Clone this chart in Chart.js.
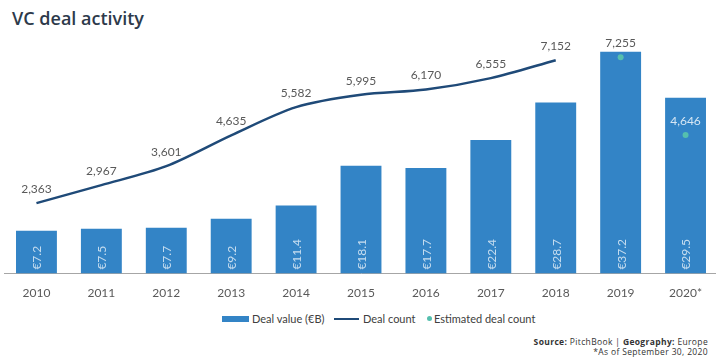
<!DOCTYPE html>
<html>
<head>
<meta charset="utf-8">
<script src="https://cdn.jsdelivr.net/npm/chart.js@4.4.1/dist/chart.umd.min.js"></script>
<style>
  html, body { margin: 0; padding: 0; background: #fff; overflow: hidden; }
  body { width: 716px; height: 363px; position: relative; font-family: "Lato", "Open Sans", sans-serif; }
  #title { position: absolute; left: 12px; top: 6px; font: 600 18px "Open Sans", sans-serif; color: #2d3a4b; }
  #wrap { position: absolute; left: 0; top: 0; width: 722px; height: 312px; }
  #legend { position: absolute; left: 222px; top: 312px; font-size: 11px; color: #404040; white-space: nowrap; }
  #legend span.item { position: absolute; top: 0; display: flex; align-items: center; }
  .swatch-bar { display: inline-block; width: 27px; height: 6px; background: #3384c6; margin-right: 3px; }
  .swatch-line { display: inline-block; width: 25px; height: 2px; background: #1f4a78; margin-right: 4px; }
  .swatch-dot { display: inline-block; width: 5px; height: 5px; border-radius: 50%; background: #55bfae; margin-right: 2px; }
  #source { position: absolute; right: 8px; top: 337px; text-align: right; font: 8.5px "Open Sans", sans-serif; letter-spacing: 0.35px; color: #333; line-height: 10px; }
</style>
</head>
<body>
<div id="title">VC deal activity</div>
<div id="wrap"><canvas id="vcChart"></canvas></div>
<div id="legend">
  <span class="item" style="left:0"><span class="swatch-bar"></span>Deal value (€B)</span>
  <span class="item" style="left:112px"><span class="swatch-line"></span>Deal count</span>
  <span class="item" style="left:205px"><span class="swatch-dot"></span>Estimated deal count</span>
</div>
<div id="source"><b>Source:</b> PitchBook | <b>Geography:</b> Europe<br>*As of September 30, 2020</div>
<script>
"use strict";

const years = ["2010", "2011", "2012", "2013", "2014", "2015", "2016", "2017", "2018", "2019", "2020*"];
const dealValue = [7.2, 7.5, 7.7, 9.2, 11.4, 18.1, 17.7, 22.4, 28.7, 37.2, 29.5];
const dealCount = [2363, 2967, 3601, 4635, 5582, 5995, 6170, 6555, 7152, null, null];
const estimatedCount = [null, null, null, null, null, null, null, null, null, 7255, 4646];

const fmt = (v) => v.toLocaleString("en-US");

// draws the value labels (no datalabels plugin available offline)
const valueLabels = {
  id: "valueLabels",
  afterDatasetsDraw(chart) {
    const ctx = chart.ctx;
    const bars = chart.getDatasetMeta(0).data;
    ctx.save();
    ctx.font = "12px Lato, 'Open Sans', sans-serif";

    // bar values, rotated inside the bar
    bars.forEach((bar, i) => {
      ctx.save();
      ctx.translate(bar.x, bar.base - 4);
      ctx.rotate(-Math.PI / 2);
      ctx.fillStyle = "rgba(255,255,255,0.72)";
      ctx.textAlign = "left";
      ctx.textBaseline = "middle";
      ctx.fillText("€" + dealValue[i].toFixed(1), 0, 1);
      ctx.restore();
    });

    ctx.textAlign = "center";
    ctx.textBaseline = "middle";
    [1, 2].forEach((dsIndex) => {
      const values = chart.data.datasets[dsIndex].data;
      chart.getDatasetMeta(dsIndex).data.forEach((pt, i) => {
        if (values[i] == null) return;
        const y = pt.y - 14;
        const insideBar = y > bars[i].y && Math.abs(pt.x - bars[i].x) < 21;
        ctx.fillStyle = insideBar ? "rgba(255,255,255,0.8)" : "#595959";
        ctx.fillText(fmt(values[i]), pt.x, y);
      });
    });
    ctx.restore();
  },
};

const ctx = document.getElementById("vcChart").getContext("2d");

new Chart(ctx, {
  data: {
    labels: years,
    datasets: [
      {
        type: "bar",
        label: "Deal value (€B)",
        data: dealValue,
        backgroundColor: "#3384c6",
        yAxisID: "y",
        barPercentage: 0.63,
        categoryPercentage: 1,
        order: 3,
      },
      {
        type: "line",
        label: "Deal count",
        data: dealCount,
        borderColor: "#1f4a78",
        borderWidth: 2.5,
        pointRadius: 0,
        tension: 0.3,
        yAxisID: "y2",
        order: 2,
      },
      {
        type: "line",
        label: "Estimated deal count",
        data: estimatedCount,
        showLine: false,
        pointRadius: 3,
        pointBackgroundColor: "#55bfae",
        pointBorderWidth: 0,
        yAxisID: "y2",
        order: 1,
      },
    ],
  },
  options: {
    responsive: true,
    maintainAspectRatio: false,
    animation: false,
    layout: { padding: { top: 35, left: 3.5, right: 2.5, bottom: 0 } },
    plugins: {
      legend: { display: false },
      tooltip: { enabled: false },
    },
    scales: {
      x: {
        grid: { display: false, drawTicks: false },
        border: { display: true, color: "#a6a6a6", width: 1 },
        ticks: {
          color: "#595959",
          padding: 12,
          font: { family: "Lato, 'Open Sans', sans-serif", size: 12 },
        },
      },
      y: { display: false, min: 0, max: 40 },
      y2: { display: false, min: 0, max: 8000 },
    },
  },
  plugins: [valueLabels],
});
</script>
</body>
</html>
